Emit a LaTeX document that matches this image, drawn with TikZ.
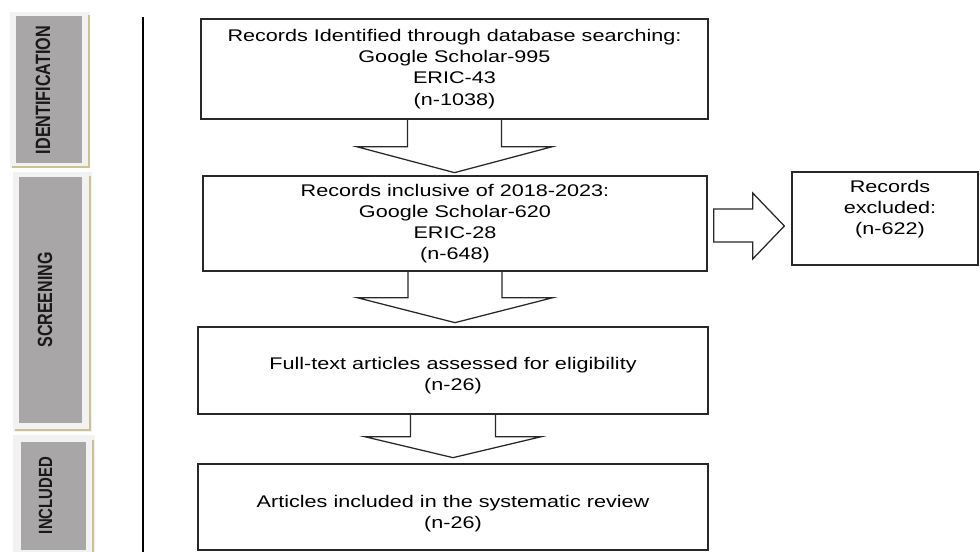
\documentclass[tikz,border=0pt]{standalone}
\usepackage{graphicx}
\usepackage{fontspec}
\setmainfont{Liberation Sans}[FakeStretch=1.28]
\newfontfamily\sidefont{Liberation Sans}
\usetikzlibrary{calc}

\definecolor{panelgray}{RGB}{168,166,166}
\definecolor{panelbg}{RGB}{242,242,242}
\definecolor{paneltan}{RGB}{204,194,148}
\definecolor{boxline}{RGB}{40,40,40}

\tikzset{
	flowbox/.style={draw=boxline, line width=0.9pt, inner sep=0pt},
	flowtext/.style={align=center, inner sep=0pt, font=\fontsize{12}{15}\selectfont},
	blockarrow/.style={draw=boxline, line width=0.9pt, line join=miter},
	sidetext/.style={rotate=90, inner sep=0pt, text=black!90}
}

\begin{document}
\begin{tikzpicture}[x=0.025cm,y=-0.025cm]
			\useasboundingbox (0,0) rectangle (980,552);

			% side panels
			\fill [panelbg] (10,12) rectangle (90,168);
			\draw [paneltan, line width=1.2pt] (89,15) -- (89,167) -- (12,167);
			\fill [panelgray] (16,16) rectangle (82,163);

			\fill [panelbg] (13,172) rectangle (92,432);
			\draw [paneltan, line width=1.2pt] (90,176) -- (90,430) -- (15,430);
			\fill [panelgray] (19,177) rectangle (82,423);

			\fill [panelbg] (13,435) rectangle (95,552);
			\draw [paneltan, line width=1.2pt] (93,440) -- (93,552);
			\fill [panelgray] (21,442) rectangle (86,550);

			% panel labels
			\node [sidetext, font=\sidefont\bfseries\fontsize{11.5}{13}\selectfont] (identlabel) at (43,90) {\scalebox{1}[1.28]{IDENTIFICATION}};
			\node [sidetext, font=\sidefont\bfseries\fontsize{11.4}{13}\selectfont] (screenlabel) at (45,300) {\scalebox{1}[1.28]{SCREENING}};
			\node [sidetext, font=\sidefont\bfseries\fontsize{10.6}{13}\selectfont] (incllabel) at (45.5,495.5) {\scalebox{1}[1.28]{INCLUDED}};

			% separator
			\draw [line width=1pt] (143,17) -- (143,552);

			% boxes
			\node [flowbox, minimum width=12.675cm, minimum height=2.5cm] (ident) at (454.5,69) {};
			\node [flowbox, minimum width=12.6cm, minimum height=2.375cm] (screen) at (455,223.5) {};
			\node [flowbox, minimum width=12.75cm, minimum height=2.175cm] (elig) at (453,370.5) {};
			\node [flowbox, minimum width=12.75cm, minimum height=2.15cm] (incl) at (453,507) {};
			\node [flowbox, minimum width=4.65cm, minimum height=2.325cm] (excl) at (885,218.5) {};

			% box texts
			\node [flowtext] (identtext) at (ident) {Records Identified through database searching:\\Google Scholar-995\\ERIC-43\\(n-1038)};
			\node [flowtext] (screentext) at (screen) {Records inclusive of 2018-2023:\\Google Scholar-620\\ERIC-28\\(n-648)};
			\node [flowtext] (eligtext) at ($(elig.center)+(0,5.5)$) {Full-text articles assessed for eligibility\\(n-26)};
			\node [flowtext] (incltext) at ($(incl.center)+(0,7)$) {Articles included in the systematic review\\(n-26)};
			\node [flowtext] (excltext) at ($(excl.center)+(5,-9.5)$) {Records\\excluded:\\(n-622)};

			% block arrows down
			\draw [blockarrow] ($(ident.south)+(-47,0)$) -- ($(ident.south)+(-47,27)$) -- ($(ident.south)+(-98,27)$)
				-- ($(ident.south)+(0,53)$) -- ($(ident.south)+(98,27)$) -- ($(ident.south)+(47,27)$) -- ($(ident.south)+(47,0)$);
			\draw [blockarrow] ($(screen.south)+(-47,0)$) -- ($(screen.south)+(-47,26)$) -- ($(screen.south)+(-98,26)$)
				-- ($(screen.south)+(0,51)$) -- ($(screen.south)+(98,26)$) -- ($(screen.south)+(47,26)$) -- ($(screen.south)+(47,0)$);
			\draw [blockarrow] ($(elig.south)+(-42.5,0)$) -- ($(elig.south)+(-42.5,22)$) -- ($(elig.south)+(-88.5,22)$)
				-- ($(elig.south)+(0,43)$) -- ($(elig.south)+(88.5,22)$) -- ($(elig.south)+(42.5,22)$) -- ($(elig.south)+(42.5,0)$);

			% block arrow right
			\draw [blockarrow] ($(screen.east)+(6,-14.5)$) -- ($(screen.east)+(45,-14.5)$) -- ($(screen.east)+(45,-30.5)$)
				-- ($(excl.west)+(-7,7.5)$) -- ($(screen.east)+(45,35.5)$) -- ($(screen.east)+(45,18.5)$) -- ($(screen.east)+(6,18.5)$) -- cycle;
\end{tikzpicture}
\end{document}
